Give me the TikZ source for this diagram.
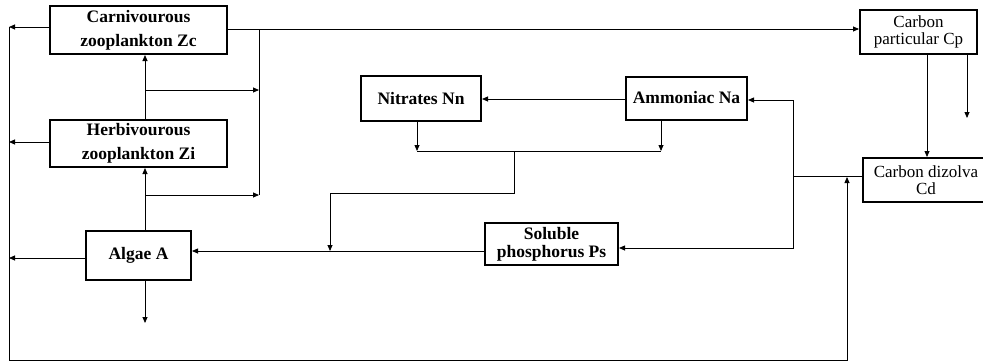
\documentclass[tikz,border=0pt]{standalone}
\usepackage{fontspec}
\setmainfont{Liberation Serif}
\usetikzlibrary{arrows.meta}
\begin{document}
\begin{tikzpicture}[x=1pt,y=-1pt,
  box/.style={draw,line width=2pt,inner sep=0pt,align=center,font=\bfseries\fontsize{17.5}{18}\selectfont},
  wide/.style={font=\bfseries\fontsize{17.5}{24}\selectfont},
  plain/.style={font=\fontsize{17}{17}\selectfont},
  ln/.style={line width=0.8pt},
  arr/.style={ln,-{Triangle[length=6pt,width=5pt]}}]
\useasboundingbox (0,0) rectangle (983,364);
% nodes
\node[box,wide,minimum width=177pt,minimum height=48pt] (Zc) at (138.5,30) {Carnivourous\\zooplankton Zc};
\node[box,wide,minimum width=177pt,minimum height=47pt] (Zi) at (138.5,143.5) {Herbivourous\\zooplankton Zi};
\node[box,minimum width=105pt,minimum height=49pt] (A) at (138.5,255.5) {Algae A};
\node[box,minimum width=120pt,minimum height=45pt] (Nn) at (421,98.5) {Nitrates Nn};
\node[box,minimum width=121pt,minimum height=43pt] (Na) at (686.5,98) {Ammoniac Na};
\node[box,minimum width=133pt,minimum height=42pt] (Ps) at (551.5,244) {Soluble\\phosphorus Ps};
\node[box,plain,minimum width=117pt,minimum height=44pt] (Cp) at (918.5,32) {Carbon\\particular Cp};
\node[box,plain,minimum width=126pt,minimum height=44pt] (Cd) at (926,180) {Carbon dizolva\\Cd};
% coordinates
\coordinate (L1) at (9,27);
\coordinate (L2) at (9,142);
\coordinate (L3) at (9,258);
\coordinate (LB) at (9,360);
\coordinate (RB) at (847,360);
\coordinate (RT) at (847,177);
\coordinate (V1) at (259,29);
\coordinate (V2) at (259,195);
\coordinate (H1) at (145,90);
\coordinate (H1e) at (259,90);
\coordinate (H2) at (145,195);
\coordinate (Adown) at (145,323);
\coordinate (M1) at (417,151);
\coordinate (M2) at (661,151);
\coordinate (M3) at (514,151);
\coordinate (M4) at (514,193);
\coordinate (M5) at (330,193);
\coordinate (M6) at (330,251);
\coordinate (K1) at (793,176);
\coordinate (K2) at (793,100);
\coordinate (K3) at (793,248);
\coordinate (Cpd) at (967,118);
% connectors: left collector
\draw[arr] (Zc.west |- L1) -- (L1);
\draw[arr] (Zi.west |- L2) -- (L2);
\draw[arr] (A.west |- L3) -- (L3);
\draw[arr] (L1) -- (LB) -- (RB) -- (RT);
% top line
\draw[arr] (Zc.east |- V1) -- (Cp.west |- V1);
\draw[ln] (V1) -- (V2);
\draw[arr] (H1) -- (H1e);
\draw[arr] (H2) -- (V2);
% vertical chain
\draw[arr] (Zi.north -| H1) -- (Zc.south -| H1);
\draw[arr] (A.north -| H1) -- (Zi.south -| H1);
\draw[arr] (A.south -| H1) -- (Adown);
% nitrogen
\draw[arr] (Na.west |- K2) ++(0,-1) coordinate (t) -- (Nn.east |- t);
\draw[arr] (Nn.south -| M1) -- (M1);
\draw[arr] (Na.south -| M2) -- (M2);
\draw[ln] (M1) -- (M2);
\draw[arr] (M3) -- (M4) -- (M5) -- (M6);
\draw[arr] (Ps.west |- M6) -- (A.east |- M6);
% carbon dissolved returns
\draw[ln] (Cd.west |- K1) -- (K1);
\draw[arr] (K2) -- (Na.east |- K2);
\draw[arr] (K2) -- (K3) -- (Ps.east |- K3);
% carbon particular
\draw[arr] (Cp.south -| 927,0) -- (Cd.north -| 927,0);
\draw[arr] (Cp.south -| Cpd) -- (Cpd);
\end{tikzpicture}
\end{document}
